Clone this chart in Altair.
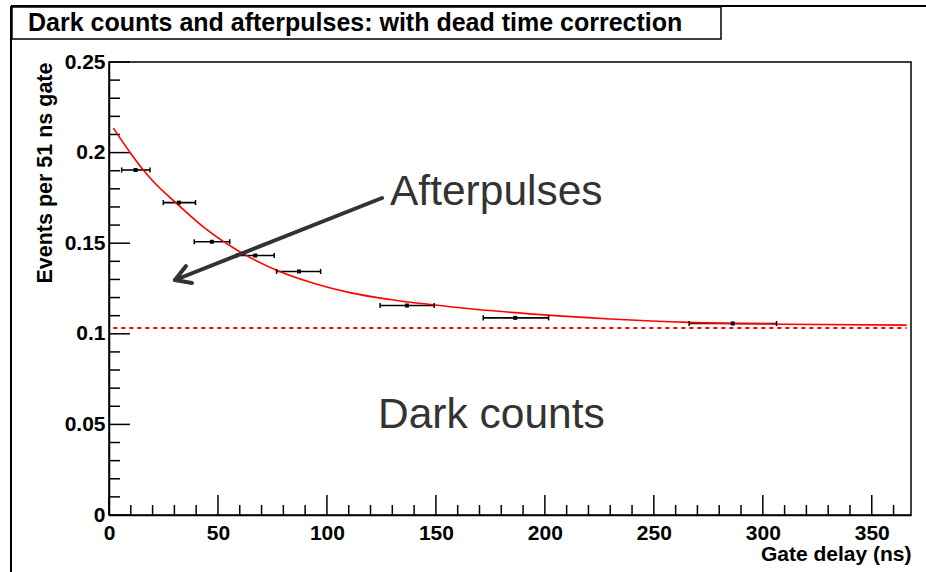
import altair as alt
import pandas as pd

# ---- data ----
gate_x = [12.2, 32.1, 47.2, 67.1, 87.2, 136.7, 186.4, 286.2]
gate_lo = [5.8, 24.9, 39.1, 58.6, 76.9, 124.4, 171.7, 266.2]
gate_hi = [18.8, 39.7, 55.4, 75.8, 97.1, 149.2, 201.7, 306.3]
events = [0.1904, 0.1724, 0.1508, 0.1432, 0.1344, 0.1156, 0.1088, 0.1057]

fit_x = [2, 10, 15, 20, 31, 44, 60, 78, 95, 111, 129, 160, 193, 230, 266, 310, 366]
fit_y = [0.2135, 0.1995, 0.1915, 0.1845, 0.1720, 0.1583, 0.1453, 0.1345, 0.1275,
         0.1226, 0.1189, 0.1145, 0.1110, 0.1082, 0.1063, 0.1053, 0.1048]

dark_x = [2, 366]
dark_y = [0.1032, 0.1032]

x_major = [0, 50, 100, 150, 200, 250, 300, 350]
x_minor = [v for v in range(10, 370, 10) if v % 50 != 0]
y_major = [0, 0.05, 0.1, 0.15, 0.2, 0.25]
y_minor = [round(0.01 * i, 2) for i in range(1, 25) if i % 5 != 0]

title_text = ["Dark counts and afterpulses: with dead time correction"]
annot_after = ["Afterpulses"]
annot_dark = ["Dark counts"]

# ---- layout ----
W, H = 802, 453
PL, PT = 109, 62
FONT = "Liberation Sans"

xs = alt.Scale(domain=[0, 368], nice=False, zero=False)
ys = alt.Scale(domain=[0, 0.25], nice=False, zero=False)

x_axis = alt.Axis(values=x_major, format="d", title="Gate delay (ns)",
                  titleX=W, titleY=45, titleAlign="right", titleBaseline="alphabetic",
                  titleFont=FONT, titleFontSize=21, titleFontWeight="bold", titleColor="black",
                  labelFont=FONT, labelFontSize=21, labelFontWeight="bold", labelColor="black",
                  labelPadding=7, labelFlush=False, ticks=False, grid=False,
                  domainColor="black", domainWidth=1.5)
y_axis = alt.Axis(values=y_major, format="~g", title="Events per 51 ns gate",
                  titleX=-64, titleY=0, titleAngle=270, titleAlign="right", titleBaseline="middle",
                  titleFont=FONT, titleFontSize=21.5, titleFontWeight="bold", titleColor="black",
                  labelFont=FONT, labelFontSize=21, labelFontWeight="bold", labelColor="black",
                  labelPadding=4, labelFlush=False, ticks=False, grid=False,
                  domainColor="black", domainWidth=1.5)

pts = pd.DataFrame({"x": gate_x, "lo": gate_lo, "hi": gate_hi, "y": events})
caps = pd.DataFrame({"x": gate_lo + gate_hi, "y": events + events})
fit = pd.DataFrame({"x": fit_x, "y": fit_y})
dark = pd.DataFrame({"x": dark_x, "y": dark_y})
one = pd.DataFrame({"t": title_text, "a": annot_after, "d": annot_dark})

bars = alt.Chart(pts).mark_rule(color="black", strokeWidth=1.6).encode(
    x=alt.X("lo:Q", scale=xs, axis=x_axis),
    x2="hi:Q",
    y=alt.Y("y:Q", scale=ys, axis=y_axis),
)
cap_marks = alt.Chart(caps).mark_rule(color="black", strokeWidth=1.5).transform_calculate(
    y1="datum.y - 0.0014", y2="datum.y + 0.0014"
).encode(x="x:Q", y="y1:Q", y2="y2:Q")
centers = alt.Chart(pts).mark_square(color="black", size=16, opacity=1).encode(x="x:Q", y="y:Q")

fit_line = alt.Chart(fit).mark_line(color="#ff0000", strokeWidth=1.6, interpolate="monotone").encode(
    x="x:Q", y="y:Q")
dark_line = alt.Chart(dark).mark_line(color="#ff0000", strokeWidth=2, strokeDash=[4, 4]).encode(
    x="x:Q", y="y:Q")

xt_minor = alt.Chart(pd.DataFrame({"x": x_minor})).mark_rule(color="black", strokeWidth=1.5).encode(
    x="x:Q", y=alt.value(H), y2=alt.value(H - 10))
xt_major = alt.Chart(pd.DataFrame({"x": x_major})).mark_rule(color="black", strokeWidth=1.5).encode(
    x="x:Q", y=alt.value(H), y2=alt.value(H - 20))
yt_minor = alt.Chart(pd.DataFrame({"y": y_minor})).mark_rule(color="black", strokeWidth=1.5).encode(
    y="y:Q", x=alt.value(0), x2=alt.value(11))
yt_major = alt.Chart(pd.DataFrame({"y": y_major})).mark_rule(color="black", strokeWidth=1.5).encode(
    y="y:Q", x=alt.value(0), x2=alt.value(21))

# canvas frame (left and top) and title box
frame_left = alt.Chart(one).mark_rule(color="black", strokeWidth=2).encode(
    x=alt.value(11 - PL), y=alt.value(6 - PT), y2=alt.value(572 - PT))
frame_top = alt.Chart(one).mark_rule(color="black", strokeWidth=2).encode(
    x=alt.value(11 - PL), x2=alt.value(926 - PL), y=alt.value(6 - PT))
title_box = alt.Chart(one).mark_rect(fill="white", stroke="black", strokeWidth=1.5).encode(
    x=alt.value(12 - PL), x2=alt.value(721 - PL), y=alt.value(7 - PT), y2=alt.value(39 - PT))
title_mark = alt.Chart(one).mark_text(font=FONT, fontSize=25, fontWeight="bold", color="black",
                                      align="left", baseline="middle").encode(
    text="t:N", x=alt.value(28 - PL), y=alt.value(23 - PT))

# annotations
txt_after = alt.Chart(one).mark_text(font=FONT, fontSize=42.5, color="#333333",
                                     align="left", baseline="alphabetic").encode(
    text="a:N", x=alt.value(390 - PL), y=alt.value(205 - PT))
txt_dark = alt.Chart(one).mark_text(font=FONT, fontSize=42.5, color="#333333",
                                    align="left", baseline="alphabetic").encode(
    text="d:N", x=alt.value(378 - PL), y=alt.value(428 - PT))

def seg(x1, y1, x2, y2):
    return alt.Chart(one).mark_rule(color="#333333", strokeWidth=4, strokeCap="round").encode(
        x=alt.value(x1 - PL), y=alt.value(y1 - PT), x2=alt.value(x2 - PL), y2=alt.value(y2 - PT))

arrow = seg(382, 198, 175, 280) + seg(175, 280, 186, 266) + seg(175, 280, 192, 283)

chart = alt.layer(
    bars, xt_minor, xt_major, yt_minor, yt_major,
    dark_line, fit_line, cap_marks, centers,
    arrow, txt_after, txt_dark,
    frame_left, frame_top, title_box, title_mark,
).properties(
    width=W, height=H,
    autosize=alt.AutoSizeParams(type="none"),
    padding={"left": PL, "top": PT, "right": 926 - PL - W, "bottom": 572 - PT - H},
    background="white",
).configure_view(stroke="black", strokeWidth=1.5)

chart.save("out.html", embed_options={"renderer": "svg", "actions": False})
